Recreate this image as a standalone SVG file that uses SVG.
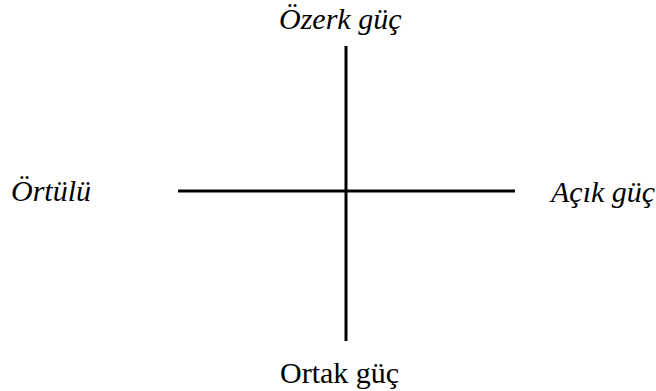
<svg xmlns="http://www.w3.org/2000/svg" width="656" height="391" viewBox="0 0 656 391">
<style>
.t{font-family:'Liberation Serif','Times New Roman',serif;font-size:30px;fill:#000}
.i{font-style:italic}
.ln{stroke:#000;stroke-width:3;fill:none}
</style>
<rect width="656" height="391" fill="#fff"/>
<g id="connectors">
<line class="ln" x1="346" y1="46" x2="346" y2="341"/>
<line class="ln" x1="178" y1="191" x2="515" y2="191"/>
</g>
<g id="ozerk"><text class="t i" x="279" y="29">Özerk güç</text></g>
<g id="ortulu"><text class="t i" x="11" y="201">Örtülü</text></g>
<g id="acik"><text class="t i" x="551" y="202">Açık güç</text></g>
<g id="ortak"><text class="t" x="280" y="383">Ortak güç</text></g>
</svg>
